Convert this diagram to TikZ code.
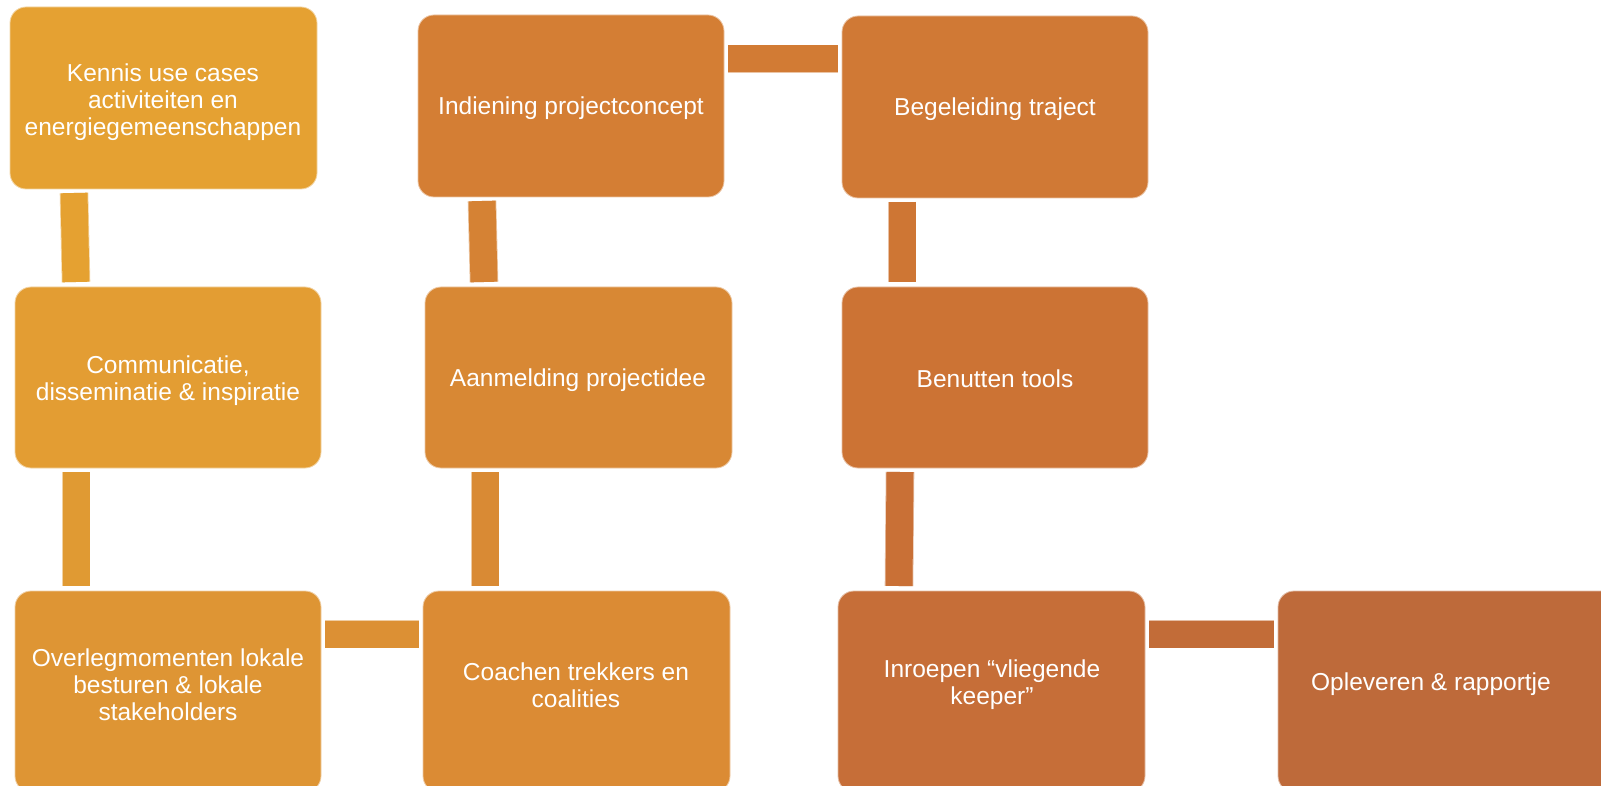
\documentclass[tikz,border=0pt]{standalone}
\usepackage{fontspec}
\setmainfont{Liberation Sans}
\usetikzlibrary{calc}
\definecolor{cK}{RGB}{229,161,50}
\definecolor{cC}{RGB}{227,157,51}
\definecolor{cO}{RGB}{222,149,52}
\definecolor{cCo}{RGB}{219,139,52}
\definecolor{cA}{RGB}{216,136,52}
\definecolor{cI}{RGB}{212,126,52}
\definecolor{cB}{RGB}{208,121,53}
\definecolor{cBe}{RGB}{204,115,52}
\definecolor{cIn}{RGB}{198,110,56}
\definecolor{cOp}{RGB}{190,106,58}
\definecolor{l1}{RGB}{229,161,49}
\definecolor{l2}{RGB}{224,154,51}
\definecolor{l3}{RGB}{220,144,52}
\definecolor{l4}{RGB}{217,138,52}
\definecolor{l5}{RGB}{213,130,52}
\definecolor{l6}{RGB}{210,123,52}
\definecolor{l7}{RGB}{206,118,52}
\definecolor{l8}{RGB}{201,112,54}
\definecolor{l9}{RGB}{194,108,56}
\tikzset{
  box/.style={draw=#1!45!white, line width=0.8pt, fill=#1, rounded corners=16pt, inner sep=0pt, overlay},
  lbl/.style={text=white, align=center, font=\fontsize{24.5}{27}\selectfont, inner sep=0pt},
  bar/.style={draw=#1!45!white, double=#1, double distance=27pt, line width=0.8pt}
}
\newcommand{\mybox}[6]{% name, color, x1,y1,x2,y2
  \path[box=#2] (#3,#4) rectangle (#5,#6);
  \node[overlay, inner sep=0pt, minimum width={#5-#3}, minimum height={#6-#4}] (#1) at ({(#3+#5)/2},{(#4+#6)/2}) {};
}
\begin{document}
\begin{tikzpicture}[x=1pt,y=-1pt]
\fill[white] (0,0) rectangle (1601,786);
\useasboundingbox (0,0) rectangle (1601,786);
% connectors
\draw[bar=l1] (74,193) -- (76,282);
\draw[bar=l2] (76,472) -- (76,586);
\draw[bar=l3] (325,634) -- (419,634);
\draw[bar=l4] (485,472) -- (485,586);
\draw[bar=l5] (482,201) -- (484,282);
\draw[bar=l6] (728,59) -- (838,59);
\draw[bar=l7] (902,202) -- (902,282);
\draw[bar=l8] (900,472) -- (899,586);
\draw[bar=l9] (1149,634) -- (1274,634);
% boxes
\mybox{k}{cK}{10}{7}{317}{189}
\mybox{c}{cC}{15}{287}{321}{468}
\mybox{o}{cO}{15}{591}{321}{792}
\mybox{co}{cCo}{423}{591}{730}{792}
\mybox{a}{cA}{425}{287}{732}{468}
\mybox{i}{cI}{418}{15}{724}{197}
\mybox{b}{cB}{842}{16}{1148}{198}
\mybox{be}{cBe}{842}{287}{1148}{468}
\mybox{in}{cIn}{838}{591}{1145}{792}
\mybox{op}{cOp}{1278}{591}{1640}{792}
% labels
\node[lbl] (tk) at (163,102) {Kennis use cases\\activiteiten en\\energiegemeenschappen};
\node[lbl] (tc) at (168,381) {Communicatie,\\disseminatie \& inspiratie};
\node[lbl] (to) at (168,685) {Overlegmomenten lokale\\besturen \& lokale\\stakeholders};
\node[lbl] (tco) at (576,685) {Coachen trekkers en\\coalities};
\node[lbl] (ta) at (578,380) {Aanmelding projectidee};
\node[lbl] (ti) at (571,108) {Indiening projectconcept};
\node[lbl] (tb) at (995,109) {Begeleiding traject};
\node[lbl] (tbe) at (995,379) {Benutten tools};
\node[lbl] (tin) at (992,685) {Inroepen “vliegende\\keeper”};
\node[lbl] (top) at (1431,684) {Opleveren \& rapportje};
\end{tikzpicture}
\end{document}
